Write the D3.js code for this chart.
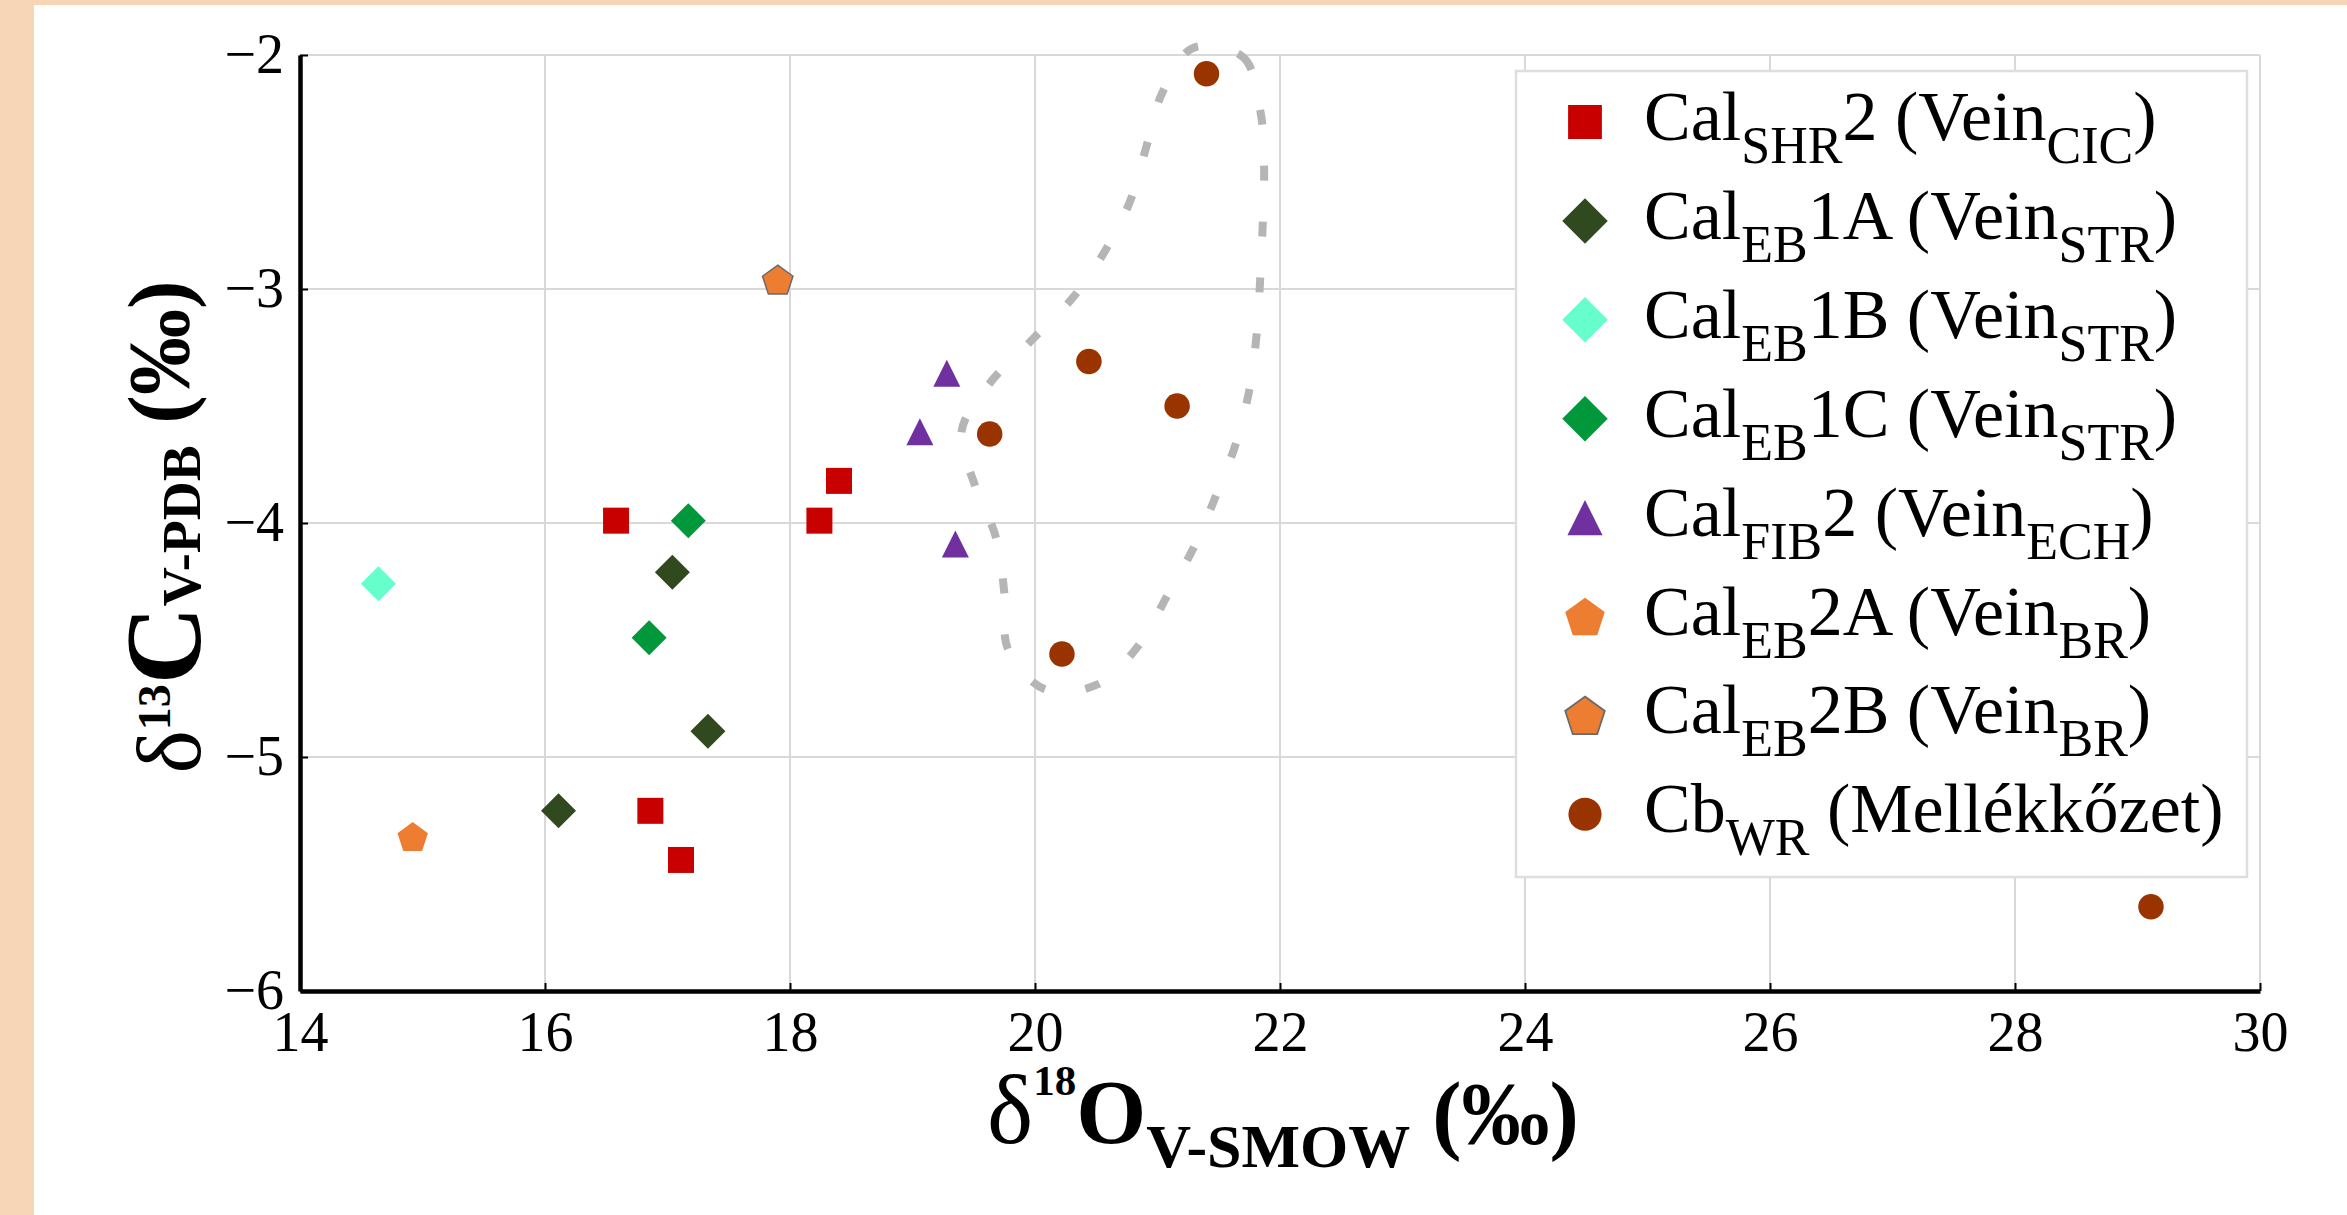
<!DOCTYPE html>
<html>
<head>
<meta charset="utf-8">
<script src="https://cdn.jsdelivr.net/npm/d3@7"></script>
<style>
  html, body { margin: 0; padding: 0; background: #fff; }
  svg { display: block; }
</style>
</head>
<body>
<div id="chart"></div>
<script>
// tick values
var xTickValues = [14, 16, 18, 20, 22, 24, 26, 28, 30];
var yTickValues = [-6, -5, -4, -3, -2];

// series values: [δ18O, δ13C]
var calShr2 = [[16.58, -3.99], [18.24, -3.99], [18.40, -3.82], [16.86, -5.23], [17.11, -5.44]];
var calEb1a = [[17.04, -4.21], [17.33, -4.89], [16.11, -5.23]];
var calEb1b = [[14.64, -4.26]];
var calEb1c = [[17.17, -3.99], [16.85, -4.49]];
var calFib2 = [[19.28, -3.36], [19.06, -3.61], [19.35, -4.09]];
var calEb2a = [[14.92, -5.34]];
var calEb2b = [[17.90, -2.96]];
var cbWr = [[21.40, -2.08], [20.44, -3.31], [21.16, -3.50], [19.63, -3.62], [20.22, -4.56], [29.11, -5.64]];

// dashed loop drawn around the host rock group
var enclosure = [
    [21.29, -1.97], [21.70, -2.01], [21.84, -2.24], [21.87, -2.48], [21.86, -2.71],
    [21.84, -2.94], [21.81, -3.19], [21.75, -3.43], [21.64, -3.66], [21.48, -3.88],
    [21.30, -4.10], [21.08, -4.31], [20.85, -4.52], [20.51, -4.69], [20.08, -4.71],
    [19.78, -4.54], [19.75, -4.30], [19.68, -4.06], [19.51, -3.84], [19.40, -3.61],
    [19.62, -3.41], [19.97, -3.22], [20.32, -3.03], [20.58, -2.83], [20.78, -2.62],
    [20.91, -2.39], [21.04, -2.16]
];

// legend text: even items normal, odd items subscript
var legendLabels = [
    ['Cal', 'SHR', '2 (Vein', 'CIC', ')'],
    ['Cal', 'EB', '1A (Vein', 'STR', ')'],
    ['Cal', 'EB', '1B (Vein', 'STR', ')'],
    ['Cal', 'EB', '1C (Vein', 'STR', ')'],
    ['Cal', 'FIB', '2 (Vein', 'ECH', ')'],
    ['Cal', 'EB', '2A (Vein', 'BR', ')'],
    ['Cal', 'EB', '2B (Vein', 'BR', ')'],
    ['Cb', 'WR', ' (Mellékkőzet)']
];

var series = [
    { data: calShr2, shape: 'square', fill: '#c80000' },
    { data: calEb1a, shape: 'diamond', fill: '#31491e' },
    { data: calEb1b, shape: 'diamond', fill: '#66ffcc' },
    { data: calEb1c, shape: 'diamond', fill: '#00983a' },
    { data: calFib2, shape: 'triangle', fill: '#7030a0' },
    { data: calEb2a, shape: 'pentagon', fill: '#ed7d31' },
    { data: calEb2b, shape: 'pentagon', fill: '#ed7d31', stroke: '#6b6b6b' },
    { data: cbWr, shape: 'circle', fill: '#993300' }
];

var width = 2347;
var height = 1215;
var margin = { 'top': 55, 'right': 87, 'bottom': 224, 'left': 300 };
var serif = '"Liberation Serif", "Times New Roman", Times, serif';

var x = d3.scaleLinear().domain([14, 30]).range([margin.left, width - margin.right]);
var y = d3.scaleLinear().domain([-6, -2]).range([height - margin.bottom, margin.top]);

function shapePath(shape, s) {
    var p = d3.path();
    if (shape === 'square') {
        var h = 13 * s;
        p.rect(-h, -h, 2 * h, 2 * h);
    } else if (shape === 'diamond') {
        var d = 17.5 * s;
        p.moveTo(0, -d); p.lineTo(d, 0); p.lineTo(0, d); p.lineTo(-d, 0); p.closePath();
    } else if (shape === 'triangle') {
        var w = 13.5 * s;
        p.moveTo(0, -w); p.lineTo(w, w); p.lineTo(-w, w); p.closePath();
    } else if (shape === 'circle') {
        p.arc(0, 0, 12.75 * s, 0, 2 * Math.PI);
    } else if (shape === 'pentagon') {
        var r = 16 * s;
        var off = 0.095 * r;
        for (var k = 0; k < 5; k++) {
            var a = -Math.PI / 2 + k * 2 * Math.PI / 5;
            if (k === 0) p.moveTo(r * Math.cos(a), r * Math.sin(a) + off);
            else p.lineTo(r * Math.cos(a), r * Math.sin(a) + off);
        }
        p.closePath();
    }
    return p.toString();
}

var svg = d3.select('#chart').append('svg')
    .attr('width', width)
    .attr('height', height);

// peach frame on the left and top
svg.append('rect').attr('width', width).attr('height', height).attr('fill', '#f6d6b6');
svg.append('rect').attr('x', 34).attr('y', 5)
    .attr('width', width - 34).attr('height', height - 5).attr('fill', '#ffffff');

// grid
var grid = svg.append('g').attr('class', 'grid');
grid.selectAll('.vgrid').data(xTickValues).enter().append('line')
    .attr('x1', function (d) { return x(d); }).attr('x2', function (d) { return x(d); })
    .attr('y1', y(-2)).attr('y2', y(-6))
    .attr('stroke', '#d9d9d9').attr('stroke-width', 2);
grid.selectAll('.hgrid').data(yTickValues).enter().append('line')
    .attr('y1', function (d) { return y(d); }).attr('y2', function (d) { return y(d); })
    .attr('x1', x(14)).attr('x2', x(30))
    .attr('stroke', '#d9d9d9').attr('stroke-width', 2);

// dashed enclosure
var loop = d3.line()
    .x(function (d) { return x(d[0]); })
    .y(function (d) { return y(d[1]); })
    .curve(d3.curveCatmullRomClosed.alpha(0.5));
svg.append('path')
    .attr('d', loop(enclosure))
    .attr('fill', 'none')
    .attr('stroke', '#b5b5b5')
    .attr('stroke-width', 8)
    .attr('stroke-dasharray', '15,41');

// axes
var xAxis = d3.axisBottom(x).tickValues(xTickValues).tickSizeInner(-8).tickSizeOuter(0)
    .tickPadding(20).tickFormat(d3.format('d'));
var yAxis = d3.axisLeft(y).tickValues(yTickValues).tickSizeInner(-8).tickSizeOuter(0)
    .tickPadding(16).tickFormat(d3.format('d'));

var gx = svg.append('g').attr('transform', 'translate(0,' + y(-6) + ')').call(xAxis);
var gy = svg.append('g').attr('transform', 'translate(' + x(14) + ',0)').call(yAxis);
[gx, gy].forEach(function (g) {
    g.attr('font-family', serif).attr('font-size', 56);
    g.select('.domain').attr('stroke', '#000').attr('stroke-width', 4.5);
    g.selectAll('.tick line').attr('stroke', '#000').attr('stroke-width', 2);
    g.selectAll('.tick text').attr('fill', '#000');
});

// points
var groups = svg.selectAll('.series').data(series).enter().append('g').attr('class', 'series');
groups.selectAll('.pt')
    .data(function (s) { return s.data.map(function (d) { return { v: d, s: s }; }); })
    .enter().append('path')
    .attr('class', 'pt')
    .attr('transform', function (d) { return 'translate(' + x(d.v[0]) + ',' + y(d.v[1]) + ')'; })
    .attr('d', function (d) { return shapePath(d.s.shape, 1); })
    .attr('fill', function (d) { return d.s.fill; })
    .attr('stroke', function (d) { return d.s.stroke || 'none'; })
    .attr('stroke-width', 1.5);

// legend
var legend = svg.append('g').attr('class', 'legend').attr('transform', 'translate(1516,71)');
legend.append('rect')
    .attr('width', 731).attr('height', 806)
    .attr('fill', '#fff').attr('stroke', '#dedede').attr('stroke-width', 2.5);

var rowStep = 98.9;
var rows = legend.selectAll('.row').data(series).enter().append('g')
    .attr('class', 'row')
    .attr('transform', function (d, i) { return 'translate(0,' + (69 + i * rowStep) + ')'; });

rows.append('path')
    .attr('transform', 'translate(69,-18)')
    .attr('d', function (d) { return shapePath(d.shape, 1.3); })
    .attr('fill', function (d) { return d.fill; })
    .attr('stroke', function (d) { return d.stroke || 'none'; })
    .attr('stroke-width', 1.8);

rows.append('text')
    .attr('x', 128)
    .attr('font-family', serif)
    .attr('font-size', 70)
    .attr('fill', '#000')
    .each(function (d, i) {
        var t = d3.select(this);
        legendLabels[i].forEach(function (part, j) {
            var sub = j % 2 === 1;
            t.append('tspan')
                .attr('font-size', sub ? 52 : 70)
                .attr('dy', j === 0 ? 0 : (sub ? 23 : -23))
                .text(part);
        });
    });

// axis titles
var xt = svg.append('text')
    .attr('x', 1283).attr('y', 1143)
    .attr('text-anchor', 'middle')
    .attr('font-family', serif)
    .attr('font-weight', 'bold')
    .attr('fill', '#000');
xt.append('tspan').attr('font-size', 98).attr('font-weight', 'normal').text('δ');
xt.append('tspan').attr('font-size', 43).attr('dy', -48).text('18');
xt.append('tspan').attr('font-size', 90).attr('dy', 48).text('O');
xt.append('tspan').attr('font-size', 62).attr('dy', 24).text('V-SMOW');
xt.append('tspan').attr('font-size', 88).attr('dy', -24).text(' (‰)');

var yt = svg.append('text')
    .attr('transform', 'translate(200,527) rotate(-90)')
    .attr('text-anchor', 'middle')
    .attr('font-family', serif)
    .attr('font-weight', 'bold')
    .attr('fill', '#000');
yt.append('tspan').attr('font-size', 92).attr('font-weight', 'normal').text('δ');
yt.append('tspan').attr('font-size', 46).attr('dy', -30).text('13');
yt.append('tspan').attr('font-size', 108).attr('dy', 30).text('C');
yt.append('tspan').attr('font-size', 54).text('V-PDB');
yt.append('tspan').attr('font-size', 86).attr('dy', -12).text(' (‰)');
</script>
</body>
</html>
